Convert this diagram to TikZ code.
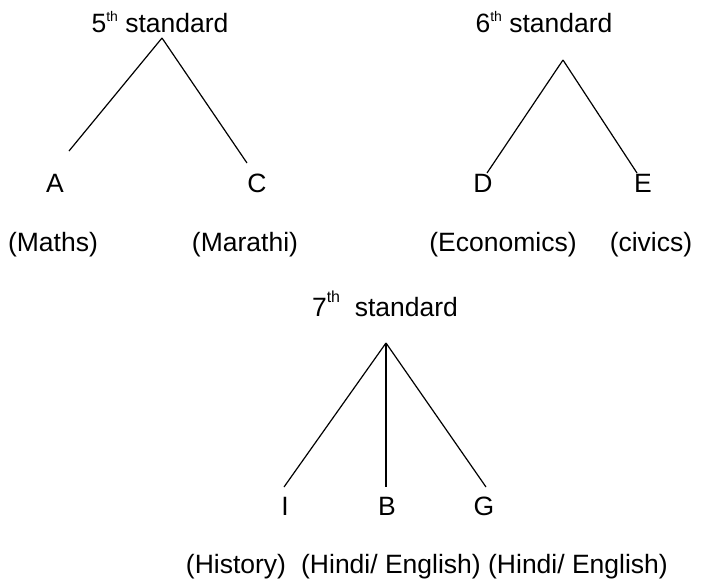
\documentclass[tikz,border=0pt]{standalone}
\usepackage{fontspec}
\setmainfont{Liberation Sans}
\usetikzlibrary{positioning}
\newcommand\smallth{\raisebox{5.5pt}{\fontsize{7}{8}\selectfont th}}
\newcommand\bigth{\raisebox{7pt}{\fontsize{8}{9}\selectfont th}}
\tikzset
{
    grade/.style   = {anchor=base, inner sep=0pt, font=\fontsize{13.25}{15}\selectfont},
    leaf/.style    = {anchor=base, inner sep=0pt, font=\fontsize{13.25}{15}\selectfont},
    subject/.style = {anchor=base, inner sep=0pt, font=\fontsize{13.25}{15}\selectfont},
    branch/.style  = {draw=black, line width=0.6pt}
}

\begin{document}
\begin{tikzpicture}[x=0.5pt, y=-0.5pt]

	 \useasboundingbox (0, 0) rectangle (714, 584);

	 % standards
	 \node (g5)	[grade] 	at (160, 32)	{5\smallth\ standard};
	 \node (g6)	[grade] 	at (544, 32)	{6\smallth\ standard};
	 \node (g7)	[grade] 	at (385, 316)	{7\bigth\ \ standard};

	 % branch points
	 \coordinate (t5)	at (162, 38);
	 \coordinate (t6)	at (563, 60);
	 \coordinate (t7)	at (386, 343);
	 \coordinate (ea)	at (69, 151);
	 \coordinate (ec)	at (247, 163);
	 \coordinate (ed)	at (487, 173);
	 \coordinate (ee)	at (637, 173);
	 \coordinate (ei)	at (284, 487);
	 \coordinate (eb)	at (386, 487);
	 \coordinate (eg)	at (486, 487);

	 % teachers
	 \node (a)	[leaf] 	at (55, 192)	{A};
	 \node (c)	[leaf] 	at (257, 192)	{C};
	 \node (d)	[leaf] 	at (483, 192)	{D};
	 \node (e)	[leaf] 	at (643, 192)	{E};
	 \node (i)	[leaf] 	at (285, 515)	{I};
	 \node (b)	[leaf] 	at (387, 515)	{B};
	 \node (g)	[leaf] 	at (484, 515)	{G};

	 % subjects
	 \node (sa)	[subject] 	at (53, 251)	{(Maths)};
	 \node (sc)	[subject] 	at (245, 251)	{(Marathi)};
	 \node (sd)	[subject] 	at (503, 251)	{(Economics)};
	 \node (se)	[subject] 	at (651, 251)	{(civics)};
	 \node (si)	[subject] 	at (236, 573)	{(History)};
	 \node (sb)	[subject] 	at (391, 573)	{(Hindi/ English)};
	 \node (sg)	[subject] 	at (578, 573)	{(Hindi/ English)};

	 \path[branch]
		  (t5)     edge  (ea)
		  (t5)     edge  (ec)
		  (t6)     edge  (ed)
		  (t6)     edge  (ee)
		  (t7)     edge  (ei)
		  (t7)     edge  (eb)
		  (t7)     edge  (eg);
\end{tikzpicture}
\end{document}
